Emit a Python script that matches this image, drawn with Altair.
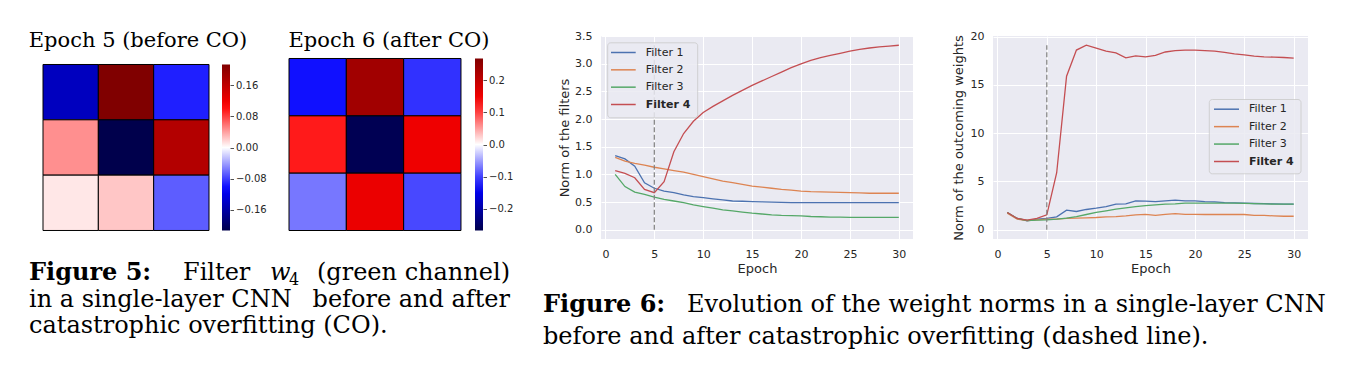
import altair as alt
import pandas as pd

# ---------------- data ----------------
epochs = list(range(1, 31))
filter_names = ["Filter 1", "Filter 2", "Filter 3", "Filter 4"]
filter_colors = ["#4C72B0", "#DD8452", "#55A868", "#C44E52"]

# Norm of the filters (Figure 6, left)
filter_norm_1 = [1.34, 1.28, 1.15, 0.85, 0.75, 0.70, 0.67, 0.63, 0.60, 0.58, 0.56, 0.54, 0.52, 0.515, 0.51,
                 0.505, 0.50, 0.495, 0.49, 0.49, 0.49, 0.49, 0.49, 0.49, 0.49, 0.49, 0.49, 0.49, 0.49, 0.49]
filter_norm_2 = [1.31, 1.24, 1.20, 1.17, 1.13, 1.10, 1.07, 1.04, 1.00, 0.96, 0.92, 0.88, 0.85, 0.82, 0.79,
                 0.77, 0.75, 0.73, 0.715, 0.70, 0.69, 0.685, 0.68, 0.675, 0.67, 0.665, 0.66, 0.66, 0.66, 0.66]
filter_norm_3 = [1.00, 0.78, 0.68, 0.64, 0.59, 0.55, 0.52, 0.49, 0.45, 0.42, 0.39, 0.36, 0.34, 0.32, 0.30,
                 0.285, 0.27, 0.26, 0.255, 0.25, 0.24, 0.235, 0.23, 0.23, 0.225, 0.225, 0.225, 0.225, 0.225, 0.225]
filter_norm_4 = [1.07, 1.02, 0.94, 0.73, 0.67, 0.87, 1.41, 1.74, 1.96, 2.12, 2.23, 2.33, 2.43, 2.52, 2.61,
                 2.69, 2.77, 2.85, 2.93, 3.00, 3.06, 3.11, 3.15, 3.19, 3.23, 3.26, 3.285, 3.305, 3.32, 3.335]

# Norm of the outcoming weights (Figure 6, right)
out_norm_1 = [1.79, 1.17, 0.93, 1.10, 1.17, 1.34, 2.03, 1.89, 2.10, 2.23, 2.40, 2.65, 2.68, 2.99, 2.96,
              2.92, 2.99, 3.06, 2.99, 2.99, 2.92, 2.89, 2.82, 2.78, 2.75, 2.72, 2.70, 2.68, 2.66, 2.65]
out_norm_2 = [1.72, 1.10, 0.96, 1.03, 1.10, 1.10, 1.17, 1.20, 1.24, 1.27, 1.34, 1.37, 1.44, 1.55, 1.60,
              1.50, 1.60, 1.68, 1.60, 1.60, 1.58, 1.58, 1.58, 1.58, 1.58, 1.50, 1.48, 1.44, 1.40, 1.40]
out_norm_3 = [1.79, 1.17, 0.96, 1.00, 1.03, 1.10, 1.20, 1.37, 1.58, 1.79, 1.96, 2.13, 2.27, 2.40, 2.50,
              2.58, 2.65, 2.68, 2.75, 2.75, 2.75, 2.75, 2.75, 2.75, 2.73, 2.70, 2.68, 2.66, 2.65, 2.65]
out_norm_4 = [1.79, 1.17, 1.00, 1.17, 1.55, 5.90, 15.9, 18.6, 19.1, 18.8, 18.5, 18.3, 17.8, 18.0, 17.9,
              18.05, 18.4, 18.55, 18.6, 18.6, 18.55, 18.5, 18.35, 18.2, 18.1, 17.97, 17.9, 17.87, 17.83, 17.77]

co_epoch = [5]

# Filter w4 (green channel), 3x3 (Figure 5)
heat_rows = [0, 1, 2]
heat_cols = [0, 1, 2]
w4_epoch5 = [[-0.145, 0.214, -0.094],
             [0.047, -0.214, 0.171],
             [0.010, 0.024, -0.068]]
w4_epoch6 = [[-0.125, 0.232, -0.108],
             [0.120, -0.262, 0.150],
             [-0.071, 0.155, -0.096]]
cbar5_limit = 0.214
cbar6_limit = 0.267
cbar5_ticks = [-0.16, -0.08, 0.0, 0.08, 0.16]
cbar6_ticks = [-0.2, -0.1, 0.0, 0.1, 0.2]

epoch_ticks = [0, 5, 10, 15, 20, 25, 30]
filter_norm_ticks = [0.0, 0.5, 1.0, 1.5, 2.0, 2.5, 3.0, 3.5]
out_norm_ticks = [0, 5, 10, 15, 20]

seismic = ["#00004c", "#0000ff", "#ffffff", "#ff0000", "#800000"]

SERIF = "DejaVu Serif"
SANS = "DejaVu Sans"
TXT = "#262626"
H = 203


def text_mark(txt, x, y, size, align="left", weight="normal", style="normal", font=SERIF):
    return alt.Chart(pd.DataFrame({"t": [txt]})).mark_text(
        font=font, fontSize=size, fontWeight=weight, fontStyle=style, align=align,
        baseline="alphabetic", color="black"
    ).encode(x=alt.value(x), y=alt.value(y), text="t:N")


def heat_panel(values, vr, ticks, fmt, title, width, xmax, ydom, cb_x, cb_top, cb_bot, cb_offset,
               title_x, extra):
    cells = pd.DataFrame([
        {"row": r, "row_end": r + 1, "col": c, "col_end": c + 1, "w": values[r][c]}
        for r in heat_rows for c in heat_cols
    ])
    rect = alt.Chart(cells).mark_rect(stroke="black", strokeWidth=1).encode(
        x=alt.X("col:Q", scale=alt.Scale(domain=[0, xmax], nice=False, zero=False), axis=None),
        x2="col_end:Q",
        y=alt.Y("row:Q", scale=alt.Scale(domain=ydom, reverse=True, nice=False, zero=False), axis=None),
        y2="row_end:Q",
        color=alt.Color(
            "w:Q",
            scale=alt.Scale(domain=[-vr, -vr / 2, 0, vr / 2, vr], range=seismic, interpolate="rgb"),
            legend=alt.Legend(orient="none", legendX=cb_x, legendY=cb_top, direction="vertical",
                              gradientLength=cb_bot - cb_top, gradientThickness=8,
                              gradientStrokeWidth=0, title=None, labelOpacity=0, labelFontSize=1,
                              padding=0),
        ),
    )
    cbar_axis = alt.Chart(pd.DataFrame({"t": ticks})).mark_point(opacity=0).encode(
        x=alt.value(0),
        y=alt.Y("t:Q",
                scale=alt.Scale(domain=[-vr, vr], range=[cb_bot, cb_top], nice=False, zero=False),
                axis=alt.Axis(orient="right", offset=cb_offset, values=ticks,
                              labelExpr="replace(format(datum.value, '" + fmt + "'), '-', '\u2212')",
                              tickSize=3.5, tickColor=TXT, tickWidth=0.8, domain=False, grid=False,
                              title=None, labelFont=SANS, labelFontSize=10, labelColor=TXT,
                              labelPadding=2, labelFlush=False, labelOverlap=False)),
    )
    ttl = text_mark(title, title_x, 11, 21, align="center")
    return alt.layer(rect, cbar_axis, ttl, *extra).resolve_scale(y="independent").properties(
        width=width, height=H)


def line_panel(series, ydom, yticks, yfmt, ytitle, width, title_x, box, rows, sym_x, lab_x, extra):
    df = pd.DataFrame({
        "epoch": epochs * 4,
        "filter": [n for n in filter_names for _ in epochs],
        "value": series[0] + series[1] + series[2] + series[3],
    })
    xs = alt.Scale(domain=[-0.45, 31.45], nice=False, zero=False)
    color_scale = alt.Scale(domain=filter_names, range=filter_colors)
    lines = alt.Chart(df).mark_line(strokeWidth=1.3).encode(
        x=alt.X("epoch:Q", scale=xs,
                axis=alt.Axis(values=epoch_ticks, title="Epoch", grid=True, gridColor="white",
                              gridWidth=1, domain=False, ticks=False, tickSize=0, labelPadding=9,
                              labelFont=SANS, labelFontSize=11, labelColor=TXT, labelFlush=False,
                              titleFont=SANS, titleFontSize=13, titleFontWeight="normal",
                              titleColor=TXT, titleY=33.5, titleBaseline="alphabetic")),
        y=alt.Y("value:Q", scale=alt.Scale(domain=ydom, nice=False, zero=False),
                axis=alt.Axis(values=yticks, format=yfmt, title=ytitle, grid=True, gridColor="white",
                              gridWidth=1, domain=False, ticks=False, tickSize=0, labelPadding=9,
                              labelFont=SANS, labelFontSize=11, labelColor=TXT, labelFlush=False,
                              titleFont=SANS, titleFontSize=13, titleFontWeight="normal",
                              titleColor=TXT, titleX=title_x, titleY=H / 2, titleAngle=270,
                              titleAlign="center", titleBaseline="middle")),
        color=alt.Color("filter:N", scale=color_scale, legend=None),
    )
    vdf = pd.DataFrame({"epoch": co_epoch, "low": [0.0], "high": [max(series[3])]})
    vline = alt.Chart(vdf).mark_rule(color="#7f7f7f", strokeDash=[5, 2.5], strokeWidth=1.2).encode(
        x=alt.X("epoch:Q", scale=xs),
        y=alt.Y("low:Q", scale=alt.Scale(domain=ydom, nice=False, zero=False), axis=None),
        y2="high:Q",
    )
    leg_df = pd.DataFrame({"filter": filter_names})
    leg_y = alt.Y("filter:N", scale=alt.Scale(type="point", domain=filter_names,
                                              range=[rows[0], rows[1]], padding=0), axis=None)
    frame = alt.Chart(pd.DataFrame({"k": [0]})).mark_rect(
        fill="#EAEAF2", stroke="#CCCCCC", strokeWidth=1, cornerRadius=3, opacity=0.85
    ).encode(x=alt.value(box[0]), x2=alt.value(box[1]), y=alt.value(box[2]), y2=alt.value(box[3]))
    samples = alt.Chart(leg_df).mark_rule(strokeWidth=1.5).encode(
        x=alt.value(sym_x[0]), x2=alt.value(sym_x[1]), y=leg_y,
        color=alt.Color("filter:N", scale=color_scale, legend=None),
    )
    labels = alt.Chart(leg_df).transform_filter(alt.datum.filter != "Filter 4").mark_text(
        align="left", baseline="middle", font=SANS, fontSize=11, color=TXT
    ).encode(x=alt.value(lab_x), y=leg_y, text="filter:N")
    labels_bold = alt.Chart(leg_df).transform_filter(alt.datum.filter == "Filter 4").mark_text(
        align="left", baseline="middle", font=SANS, fontSize=11, color=TXT, fontWeight="bold"
    ).encode(x=alt.value(lab_x), y=leg_y, text="filter:N")
    return alt.layer(lines, vline, frame, samples, labels, labels_bold, *extra).resolve_scale(
        y="independent").properties(width=width, height=H,
                                    view=alt.ViewBackground(fill="#EAEAF2", stroke=None))


# anchor fixing the page origin (top-left corner, white)
anchor = alt.Chart(pd.DataFrame({"k": [0]})).mark_rect(color="white").encode(
    x=alt.value(-35), x2=alt.value(-34), y=alt.value(-27.5), y2=alt.value(-26.5))

caption5 = [
    anchor,
    text_mark("Figure 5:", -14, 243.5, 24, weight="bold"),
    text_mark("Filter", 140, 243.5, 24),
    text_mark("w", 227, 243.5, 24, style="italic"),
    text_mark("4", 246, 248.5, 16),
    text_mark("(green channel)", 467, 243.5, 24, align="right"),
    text_mark("in a single-layer CNN", -14, 270.5, 24),
    text_mark("before and after", 467, 270.5, 24, align="right"),
    text_mark("catastrophic overfitting (CO).", -14, 297, 24),
]

caption6 = [
    text_mark("Figure 6:", -58, 276, 24, weight="bold"),
    text_mark("Evolution of the weight norms in a single-layer CNN", 86, 276, 24),
    text_mark("before and after catastrophic overfitting (dashed line).", -58, 308, 24),
]

heat5 = heat_panel(w4_epoch5, cbar5_limit, cbar5_ticks, ".2f", "Epoch 5 (before CO)",
                   166, 3.0, [-0.515, 3.154], 179, 28.5, 194.5, 21, 95, caption5)
heat6 = heat_panel(w4_epoch6, cbar6_limit, cbar6_ticks, ".1f", "Epoch 6 (after CO)",
                   232, 4.047, [-0.3924, 3.148], 186, 22.5, 194.5, -38, 100, [])

panel_filters = line_panel(
    [filter_norm_1, filter_norm_2, filter_norm_3, filter_norm_4],
    [-0.167, 3.502], filter_norm_ticks, ".1f", "Norm of the filters", 312, -37,
    [6.7, 96.7, 6.8, 81.8], [16.5, 68.5], [10, 34.7], 44.7, caption6)
panel_out = line_panel(
    [out_norm_1, out_norm_2, out_norm_3, out_norm_4],
    [-0.955, 20.055], out_norm_ticks, "d", "Norm of the outcoming weights", 315, -35,
    [216.3, 308, 63.5, 137.8], [73.2, 125.5], [221, 246], 256, [])

chart = alt.hconcat(heat5, heat6, panel_filters, panel_out, spacing=80, bounds="flush").resolve_scale(
    color="independent").resolve_legend(color="independent").properties(
    padding=0).configure_view(stroke=None)

chart.save("out.html", embed_options={"renderer": "svg", "actions": False})
